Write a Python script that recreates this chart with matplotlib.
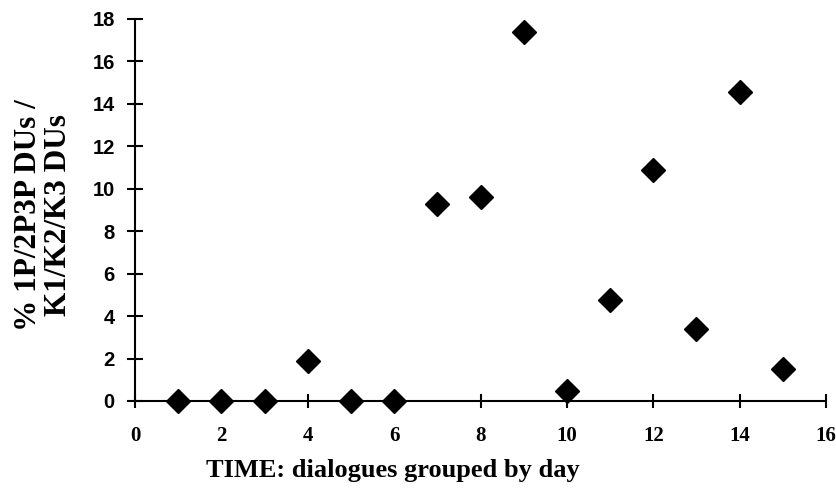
import matplotlib
matplotlib.use("Agg")
import matplotlib.pyplot as plt

# data
days = [1, 2, 3, 4, 5, 6, 7, 8, 9, 10, 11, 12, 13, 14, 15]
pct = [0, 0, 0, 1.9, 0, 0, 9.3, 9.6, 17.4, 0.45, 4.75, 10.9, 3.4, 14.55, 1.5]
xticks = [0, 2, 4, 6, 8, 10, 12, 14, 16]
yticks = [0, 2, 4, 6, 8, 10, 12, 14, 16, 18]

serif = "Liberation Serif"
sans = "Liberation Sans"

fig = plt.figure(figsize=(8.37, 5), dpi=100)
ax = fig.add_axes([0.1613, 0.198, 0.8256, 0.764])

ax.plot(days, pct, linestyle="none", marker="D", markersize=12,
        color="black", markeredgewidth=1, clip_on=False, zorder=3)

ax.set_xlim(0, 16)
ax.set_ylim(0, 18)
ax.set_xticks(xticks)
ax.set_yticks(yticks)
ax.set_xticklabels([str(t) for t in xticks], fontfamily=serif, fontweight="bold", fontsize=15)
ax.set_yticklabels([str(t) for t in yticks], fontfamily=sans, fontweight="bold", fontsize=14.5)

ax.tick_params(axis="x", direction="inout", length=10, width=1.5, pad=13)
ax.tick_params(axis="y", direction="inout", length=11, width=1.5, pad=9)

ax.spines["right"].set_visible(False)
ax.spines["top"].set_visible(False)
ax.spines["left"].set_linewidth(1.5)
ax.spines["bottom"].set_linewidth(1.5)

fig.text(0.469, 0.06, "TIME: dialogues grouped by day", ha="center", va="center",
         fontfamily=serif, fontweight="bold", fontsize=19)
fig.text(0.052, 0.57, "% 1P/2P3P DUs /\nK1/K2/K3 DUs", ha="center", va="center",
         rotation=90, fontfamily=serif, fontweight="bold", fontsize=22.5,
         linespacing=1.05, multialignment="center")

fig.savefig("out.png", dpi=100)
